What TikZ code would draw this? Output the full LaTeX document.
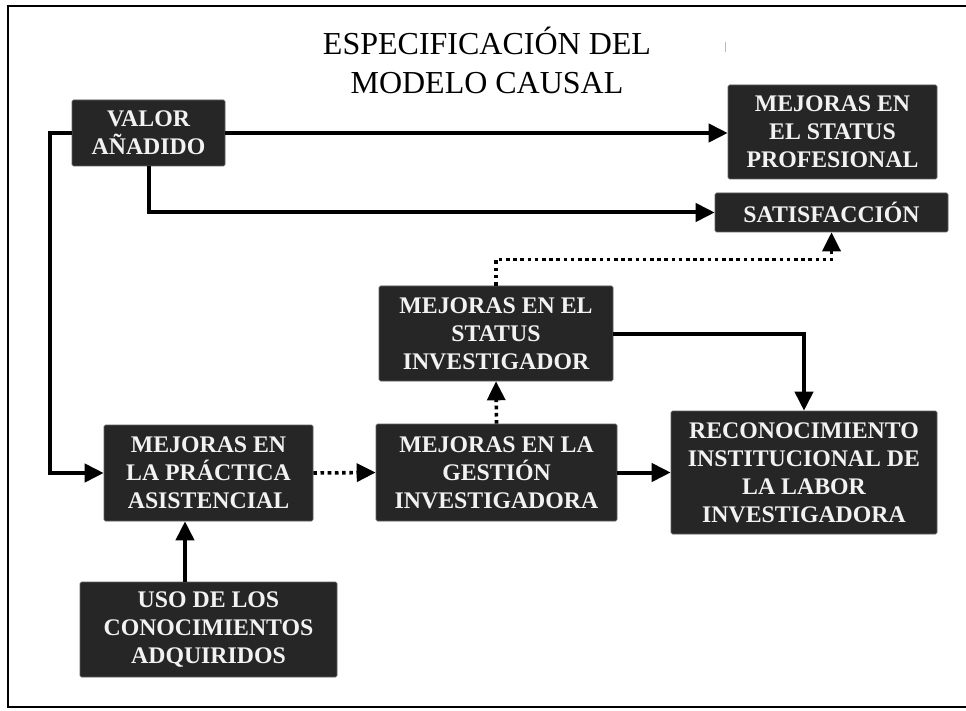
\documentclass[tikz,border=0pt]{standalone}
\usepackage{fontspec}
\setmainfont{Liberation Serif}
\usetikzlibrary{arrows.meta}
\definecolor{boxfill}{RGB}{38,38,38}
\definecolor{boxedge}{RGB}{95,95,95}
\definecolor{boxtext}{RGB}{242,242,242}
\tikzset{
  blk/.style={draw=boxedge, line width=0.6pt, fill=boxfill, rounded corners=1.5pt,
    text=boxtext, font=\bfseries\fontsize{23.8}{28}\selectfont, align=center,
    inner sep=0pt},
  conn/.style={line width=4pt, -{Triangle[length=19pt,width=18pt]}},
  dotconn/.style={line width=3.6pt, dash pattern=on 3.6pt off 3.6pt,
    -{Triangle[length=19pt,width=18pt]}},
  frameline/.style={line width=2pt, black}
}
\begin{document}
\begin{tikzpicture}[x=1pt, y=-1pt]
\useasboundingbox (0,0) rectangle (966,711);
% frame
\draw[frameline] (966,6) -- (8,6) -- (8,707) -- (966,707);
% small tick
\draw[gray!55, line width=0.8pt] (725,42) -- (725,52);
% title
\node[font=\fontsize{32}{39}\selectfont, align=center, inner sep=0pt] (title) at (487,60)
  {ESPECIFICACIÓN DEL\\MODELO CAUSAL};
% boxes
\node[blk, minimum width=153pt, minimum height=66pt] (valor) at (148.5,133) {VALOR\\AÑADIDO};
\node[blk, minimum width=209pt, minimum height=94pt] (prof) at (832.5,132) {MEJORAS EN\\EL STATUS\\PROFESIONAL};
\node[blk, minimum width=233pt, minimum height=39pt] (satis) at (831.5,212.5) {SATISFACCIÓN};
\node[blk, minimum width=234pt, minimum height=95pt] (statinv) at (496,333.5) {MEJORAS EN EL\\STATUS\\INVESTIGADOR};
\node[blk, minimum width=209pt, minimum height=96pt] (prac) at (208.5,473) {MEJORAS EN\\LA PRÁCTICA\\ASISTENCIAL};
\node[blk, minimum width=241pt, minimum height=97pt] (gest) at (496.5,472.5) {MEJORAS EN LA\\GESTIÓN\\INVESTIGADORA};
\node[blk, minimum width=266pt, minimum height=123pt] (recon) at (804,472.5) {RECONOCIMIENTO\\INSTITUCIONAL DE\\LA LABOR\\INVESTIGADORA};
\node[blk, minimum width=257pt, minimum height=95pt] (uso) at (208.5,629.5) {USO DE LOS\\CONOCIMIENTOS\\ADQUIRIDOS};
% connectors
\draw[conn] (valor.east) -- (valor.east -| prof.west);
\draw[conn] (valor.south) |- (satis.west);
\draw[conn] (valor.west) -- ++(-22,0) |- (prac.west);
\draw[conn] ([xshift=-23.5pt]uso.north) -- ([xshift=-23.5pt]prac.south);
\draw[dotconn] (prac.east) -- (gest.west);
\draw[dotconn] (gest.north) -- (statinv.south);
\draw[dotconn] (statinv.north) -- ++(0,-26) -| (satis.south);
\draw[conn] (statinv.east) -| (recon.north);
\draw[conn] (gest.east) -- (recon.west);
\end{tikzpicture}
\end{document}
